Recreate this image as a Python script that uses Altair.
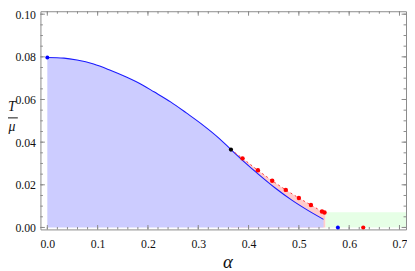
import altair as alt
import pandas as pd

# ---- data ----
curve_alpha = [0.0, 0.033, 0.059, 0.092, 0.124, 0.157, 0.189, 0.212, 0.245, 0.277,
               0.310, 0.342, 0.365, 0.388, 0.4205, 0.453, 0.486, 0.518, 0.549]
curve_T = [0.0797, 0.0794, 0.0785, 0.0766, 0.0738, 0.0705, 0.0668, 0.0636, 0.0589, 0.0536,
           0.0479, 0.0417, 0.0365, 0.0315, 0.0248, 0.0185, 0.0128, 0.0080, 0.0038]

red_alpha = [0.388, 0.4186, 0.447, 0.474, 0.500, 0.524, 0.546, 0.551]
red_T = [0.0324, 0.0268, 0.0219, 0.0176, 0.0138, 0.0105, 0.0075, 0.0070]

band_alpha = [0.365, 0.388, 0.4186, 0.447, 0.474, 0.500, 0.524, 0.546, 0.551, 0.553]
band_T = [0.0365, 0.0324, 0.0268, 0.0219, 0.0176, 0.0138, 0.0105, 0.0075, 0.0070, 0.0068]

green_alpha = [0.553, 0.72]
green_T = [0.0, 0.0071]

blue_pts_alpha = [0.0, 0.5775]
blue_pts_T = [0.0797, 0.0]
black_pt_alpha = [0.365]
black_pt_T = [0.0365]
red_axis_alpha = [0.628]
red_axis_T = [0.0]

x_major = [0.0, 0.1, 0.2, 0.3, 0.4, 0.5, 0.6, 0.7]
x_minor = [round(i * 0.02, 2) for i in range(36)]
y_major = [0.0, 0.02, 0.04, 0.06, 0.08, 0.10]
y_minor = [round(i * 0.005, 3) for i in range(21)]

W, H = 372, 222
FRAME = "#8a8a8a"
SERIF = "Liberation Serif"

xs = alt.Scale(domain=[-0.0137, 0.713], nice=False, zero=False)
ys = alt.Scale(domain=[-0.00092, 0.10138], nice=False, zero=False)
x_axis = alt.Axis(values=x_major, format=".1f", ticks=False, domain=False, grid=False,
                  labelFont=SERIF, labelFontSize=12, labelColor="#111", labelPadding=9, title=None)
y_axis = alt.Axis(values=y_major, format=".2f", ticks=False, domain=False, grid=False,
                  labelFont=SERIF, labelFontSize=12, labelColor="#111", labelPadding=5, title=None)


def X(f="a"):
    return alt.X(f"{f}:Q", scale=xs, axis=x_axis)


def Y(f="T"):
    return alt.Y(f"{f}:Q", scale=ys, axis=y_axis)


curve = pd.DataFrame({"a": curve_alpha, "T": curve_T})
band = pd.DataFrame({"a": band_alpha, "T": band_T})
reds = pd.DataFrame({"a": red_alpha, "T": red_T})
green = pd.DataFrame({"a": [green_alpha[0]], "a2": [green_alpha[1]],
                      "T": [green_T[0]], "T2": [green_T[1]]})
blues = pd.DataFrame({"a": blue_pts_alpha, "T": blue_pts_T})
black = pd.DataFrame({"a": black_pt_alpha, "T": black_pt_T})
red_ax = pd.DataFrame({"a": red_axis_alpha, "T": red_axis_T})

pink_area = alt.Chart(band).mark_area(color="#ffcccc", opacity=1).encode(
    x=X(), y=Y(), y2=alt.datum(0))
green_rect = alt.Chart(green).mark_rect(color="#e6ffe6", clip=True).encode(
    x=X(), x2="a2:Q", y=Y(), y2="T2:Q")
blue_area = alt.Chart(curve).mark_area(color="#ccccff", opacity=1, interpolate="monotone").encode(
    x=X(), y=Y(), y2=alt.datum(0))
blue_line = alt.Chart(curve).mark_line(color="#1a1aff", strokeWidth=1.1, interpolate="monotone").encode(
    x=X(), y=Y())
red_line = alt.Chart(band).mark_line(color="#ff3333", strokeWidth=1, strokeDash=[2, 3]).encode(
    x=X(), y=Y())
red_dots = alt.Chart(reds).mark_circle(color="#ff0000", size=20, opacity=1).encode(x=X(), y=Y())
red_ax_dot = alt.Chart(red_ax).mark_circle(color="#ff0000", size=18, opacity=1).encode(x=X(), y=Y())
blue_dots = alt.Chart(blues).mark_circle(color="#0000ff", size=16, opacity=1).encode(x=X(), y=Y())
black_dot = alt.Chart(black).mark_circle(color="#000000", size=18, opacity=1).encode(x=X(), y=Y())

# frame ticks (pointing inward)
xmaj = pd.DataFrame({"a": x_major})
xmin = pd.DataFrame({"a": x_minor})
ymaj = pd.DataFrame({"T": y_major})
ymin = pd.DataFrame({"T": y_minor})
tick_layers = []
for df, ln in [(xmin, 2.5), (xmaj, 4.5)]:
    tick_layers.append(alt.Chart(df).mark_rule(color=FRAME, strokeWidth=1).encode(
        x=X(), y=alt.value(H), y2=alt.value(H - ln)))
    tick_layers.append(alt.Chart(df).mark_rule(color=FRAME, strokeWidth=1).encode(
        x=X(), y=alt.value(0), y2=alt.value(ln)))
for df, ln in [(ymin, 2.5), (ymaj, 4.5)]:
    tick_layers.append(alt.Chart(df).mark_rule(color=FRAME, strokeWidth=1).encode(
        y=Y(), x=alt.value(0), x2=alt.value(ln)))
    tick_layers.append(alt.Chart(df).mark_rule(color=FRAME, strokeWidth=1).encode(
        y=Y(), x=alt.value(W), x2=alt.value(W - ln)))

# titles
lab = pd.DataFrame({"t": ["α"]})
alpha_title = alt.Chart(lab).mark_text(font=SERIF, fontSize=19, fontStyle="italic",
                                       baseline="middle", align="center", color="#111").encode(
    text="t:N", x=alt.value(190.7), y=alt.value(255.5))
tl = pd.DataFrame({"t": ["T"]})
T_title = alt.Chart(tl).mark_text(font=SERIF, fontSize=14, fontStyle="italic",
                                  baseline="middle", align="center", color="#111").encode(
    text="t:N", x=alt.value(-29), y=alt.value(98))
ml = pd.DataFrame({"t": ["μ"]})
mu_title = alt.Chart(ml).mark_text(font=SERIF, fontSize=14, fontStyle="italic",
                                   baseline="middle", align="center", color="#111").encode(
    text="t:N", x=alt.value(-29), y=alt.value(118))
frac = alt.Chart(ml).mark_rule(color="#111", strokeWidth=1).encode(
    x=alt.value(-34), x2=alt.value(-23), y=alt.value(108.5))

chart = alt.layer(
    pink_area, green_rect, blue_area, blue_line, red_line,
    *tick_layers,
    red_dots, red_ax_dot, blue_dots, black_dot,
    alpha_title, T_title, mu_title, frac,
).properties(
    width=W, height=H,
    autosize=alt.AutoSizeParams(type="none"),
    padding={"left": 33, "top": 1, "right": 1, "bottom": 40},
).configure_view(stroke=FRAME, strokeWidth=1)

chart.save("out.html", embed_options={"renderer": "svg", "actions": False})
